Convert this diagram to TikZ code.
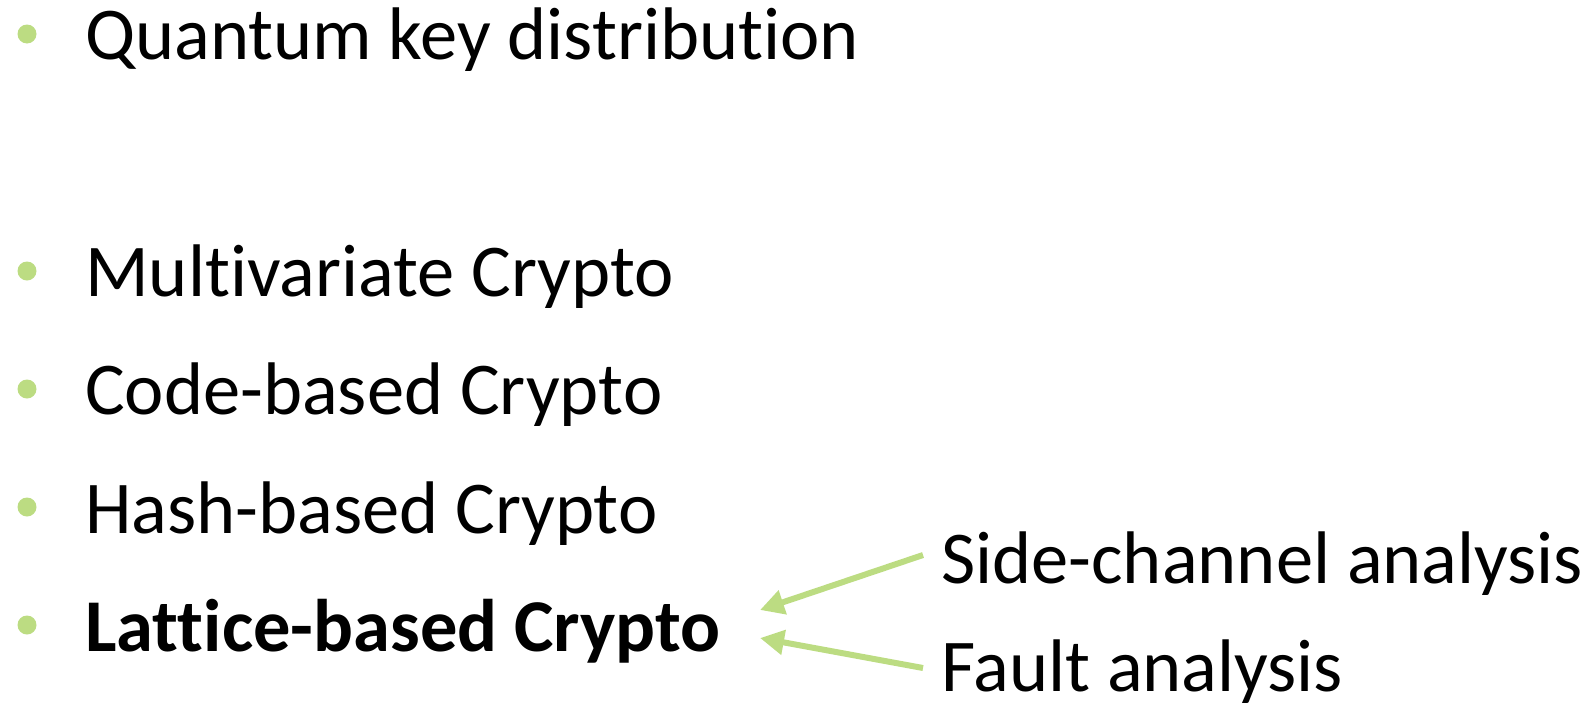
\documentclass[tikz,border=0pt]{standalone}
\usepackage{fontspec}
\setmainfont{Carlito}[Ligatures=NoCommon]
\usetikzlibrary{calc,arrows.meta}
\definecolor{bulletgreen}{RGB}{188,220,130}
\begin{document}
\begin{tikzpicture}[x=1pt,y=-1pt,
  item/.style={anchor=base west,inner sep=0pt,font=\fontsize{74.5}{88}\selectfont},
  bul/.style={fill=bulletgreen,draw=none,circle,inner sep=0pt,minimum size=19pt},
  arr/.style={draw=bulletgreen,line width=6pt,-{Triangle[length=24pt,width=24pt]}}]
\useasboundingbox (0,0) rectangle (1594,707);
\node[bul] (b1) at (27,34) {};
\node[item] (qkd) at (85,59) {Quantum key distribution};
\node[bul] (b2) at (27,271) {};
\node[item] (mv) at (85,296) {Multivariate Crypto};
\node[bul] (b3) at (27,389) {};
\node[item] (cb) at (85,414) {Code-based Crypto};
\node[bul] (b4) at (27,507) {};
\node[item] (hb) at (85,533) {Hash-based Crypto};
\node[bul] (b5) at (27,625) {};
\node[item,font=\fontsize{74.5}{88}\selectfont\bfseries] (lb) at (85,651) {Lattice-based Crypto};
\node[item] (sc) at (941,583) {Side-channel analysis};
\node[item] (fa) at (941,691) {Fault analysis};
\coordinate (t1) at (760,610);
\coordinate (t2) at (760,638);
\draw[arr] ($(sc.base west)+(-18,-28)$) -- (t1);
\draw[arr] ($(fa.base west)+(-18,-23)$) -- (t2);
\end{tikzpicture}
\end{document}
